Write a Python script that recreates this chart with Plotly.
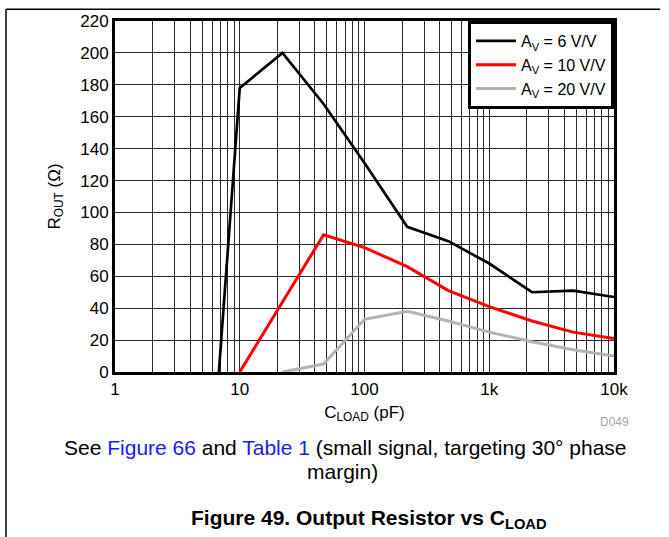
import plotly.graph_objects as go

# Output resistance vs load capacitance for three closed-loop gains
c_av6 = [6.8, 10, 22, 47, 100, 220, 470, 1000, 2200, 4700, 10000]
r_av6 = [0, 178, 200, 168, 131, 91, 82, 68, 50, 51, 47]

c_av10 = [10, 47, 100, 220, 470, 1000, 2200, 4700, 10000]
r_av10 = [0, 86, 78, 66, 51, 41, 32, 25, 21]

c_av20 = [22, 47, 100, 220, 470, 1000, 2200, 4700, 10000]
r_av20 = [0, 5, 33, 38, 32, 25, 19, 14, 10]

series_names = ["A<sub>V</sub> = 6 V/V", "A<sub>V</sub> = 10 V/V", "A<sub>V</sub> = 20 V/V"]
series_colors = ["#000000", "#ff0000", "#b3b3b3"]

x_tickvals = [1, 10, 100, 1000, 10000]
x_ticktext = ["1", "10", "100", "1k", "10k"]

FONT = "Liberation Sans, Arial, sans-serif"

fig = go.Figure()
for xs, ys, name, color, w in [
    (c_av6, r_av6, series_names[0], series_colors[0], 2.7),
    (c_av10, r_av10, series_names[1], series_colors[1], 3),
    (c_av20, r_av20, series_names[2], series_colors[2], 3),
]:
    fig.add_trace(go.Scatter(x=xs, y=ys, mode="lines", name=name,
                             line=dict(color=color, width=w)))

grid_col = "#2a2a2a"
fig.update_xaxes(
    type="log", range=[0, 4],
    tickvals=x_tickvals, ticktext=x_ticktext,
    showgrid=True, gridcolor=grid_col, gridwidth=1,
    minor=dict(dtick="D1", showgrid=True, gridcolor=grid_col, gridwidth=1),
    showline=True, linecolor="black", linewidth=3, mirror=True,
    ticks="", ticklen=0,
    tickfont=dict(family=FONT, size=17, color="black"),
    title=dict(text="C<sub>LOAD</sub> (pF)", font=dict(family=FONT, size=17, color="black"),
               standoff=8),
    zeroline=False,
)
fig.update_yaxes(
    range=[0, 220], dtick=20,
    showgrid=True, gridcolor=grid_col, gridwidth=1,
    showline=True, linecolor="black", linewidth=3, mirror=True,
    ticks="", ticklen=0,
    tickfont=dict(family=FONT, size=17, color="black"),
    title=dict(text="R<sub>OUT</sub> (Ω)", font=dict(family=FONT, size=17, color="black"),
               standoff=16),
    zeroline=False,
)

# plot area: x 115..614 px, y 17..372 px
L, R, T, B = 115, 614, 17, 372
W, H = R - L, B - T


def px(x):
    return (x - L) / W


def py(y):
    return (B - y) / H


annotations = [
    dict(text="D049", x=px(631), y=py(423), xanchor="right", yanchor="middle",
         font=dict(family=FONT, size=12, color="#a6a6a6")),
    dict(text="See <span style='color:#1a1aff'>Figure 66</span> and "
              "<span style='color:#1a1aff'>Table 1</span> (small signal, targeting 30° phase",
         x=px(345), y=py(448), xanchor="center", yanchor="middle",
         font=dict(family=FONT, size=21, color="black")),
    dict(text="margin)", x=px(342), y=py(473), xanchor="center", yanchor="middle",
         font=dict(family=FONT, size=21, color="black")),
    dict(text="<b>Figure 49. Output Resistor vs C<sub>LOAD</sub></b>",
         x=px(369), y=py(521), xanchor="center", yanchor="middle",
         font=dict(family=FONT, size=21, color="black")),
]
for a in annotations:
    a.update(xref="paper", yref="paper", showarrow=False)

shapes = [
    dict(type="line", xref="paper", yref="paper", x0=px(6), x1=px(6), y0=py(5), y1=py(540),
         line=dict(color="black", width=1.5)),
    dict(type="line", xref="paper", yref="paper", x0=px(6), x1=px(660), y0=py(5), y1=py(5),
         line=dict(color="black", width=1.5)),
]

fig.update_layout(
    width=669, height=537,
    margin=dict(l=L, r=669 - R, t=T, b=537 - B),
    paper_bgcolor="white", plot_bgcolor="white",
    font=dict(family=FONT, size=17, color="black"),
    showlegend=True,
    legend=dict(x=1, y=1, xanchor="right", yanchor="top",
                bgcolor="white", bordercolor="black", borderwidth=3,
                font=dict(family=FONT, size=16, color="black"),
                tracegroupgap=0, itemwidth=40),
    annotations=annotations,
    shapes=shapes,
)

fig.write_html("out.html")
